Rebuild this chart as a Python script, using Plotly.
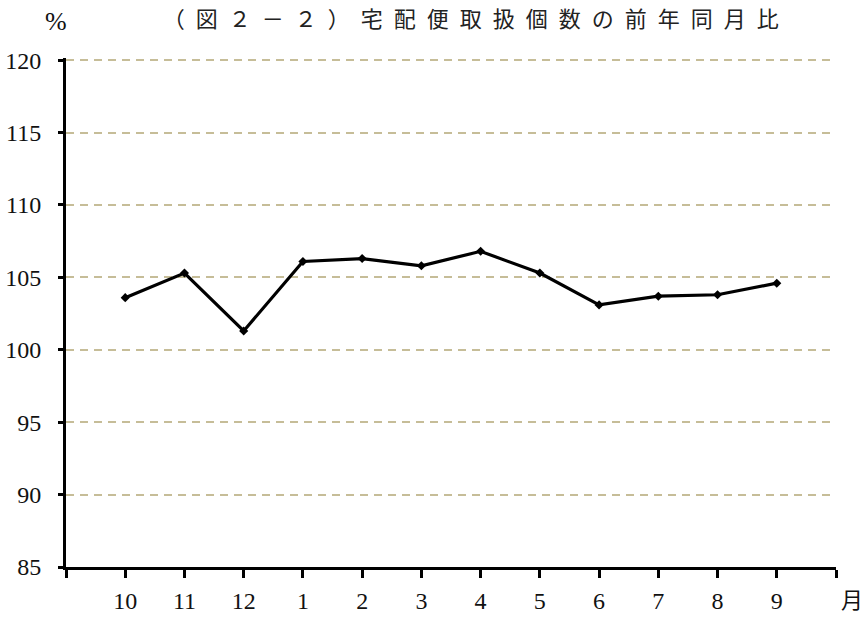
import plotly.graph_objects as go

months = ["10", "11", "12", "1", "2", "3", "4", "5", "6", "7", "8", "9"]
ratio = [103.6, 105.3, 101.3, 106.1, 106.3, 105.8, 106.8, 105.3, 103.1, 103.7, 103.8, 104.6]
y_ticks = [85, 90, 95, 100, 105, 110, 115, 120]
title_text = "（図２－２）宅配便取扱個数の前年同月比"

x_pos = list(range(1, len(months) + 1))
x_tickvals = [0] + x_pos + [len(months) + 1]
x_ticktext = [""] + months + [""]

L, R, T, B = 66, 28, 58, 50
W, H = 864, 617

fig = go.Figure()
fig.add_trace(go.Scatter(
    x=x_pos, y=ratio, mode="lines+markers",
    line=dict(color="black", width=3.2),
    marker=dict(symbol="diamond", size=7, color="black"),
    showlegend=False, hoverinfo="skip",
))

serif = "Liberation Serif, Times New Roman, DejaVu Serif, serif"
num_font = dict(family=serif, size=24, color="#111111")
grid_col = "#C6BD98"

fig.update_layout(
    width=W, height=H,
    margin=dict(l=L, r=R, t=T, b=B, autoexpand=False),
    paper_bgcolor="white", plot_bgcolor="white",
    title=dict(
        text="\u2002".join(title_text),
        font=dict(family="Noto Sans CJK JP", size=22, color="#222222"),
        x=0.545, xref="container", xanchor="center",
        y=1 - 19 / H, yref="container", yanchor="middle",
    ),
    xaxis=dict(
        range=[0, len(months) + 1],
        tickvals=x_tickvals, ticktext=x_ticktext,
        showline=True, linecolor="black", linewidth=3,
        ticks="outside", ticklen=8, tickwidth=3, tickcolor="black",
        showgrid=False, zeroline=False, automargin=False,
        tickfont=num_font, ticklabelstandoff=2,
    ),
    yaxis=dict(
        range=[85, 120.15],
        tickvals=y_ticks,
        showline=True, linecolor="black", linewidth=3,
        ticks="outside", ticklen=5, tickwidth=3, tickcolor="black",
        showgrid=True, gridcolor=grid_col, gridwidth=2, griddash="8px,6px",
        zeroline=False, automargin=False,
        tickfont=num_font, ticklabelstandoff=12,
    ),
)

plot_w = W - L - R
plot_h = H - T - B
fig.add_annotation(
    text="月", xref="paper", yref="paper",
    x=(851.7 - L) / plot_w, y=-(598 - (H - B)) / plot_h,
    xanchor="center", yanchor="middle", showarrow=False,
    font=dict(family="Noto Sans CJK JP", size=22, color="#111111"),
)
fig.add_annotation(
    text="%", xref="paper", yref="paper",
    x=(55.5 - L) / plot_w, y=((H - B) - 22) / plot_h,
    xanchor="center", yanchor="middle", showarrow=False,
    font=dict(family=serif, size=26, color="#111111"),
)

fig.write_html(
    "out.html",
    config={"displayModeBar": False},
    post_script="document.body.style.margin='0';document.body.style.overflow='hidden';",
)
